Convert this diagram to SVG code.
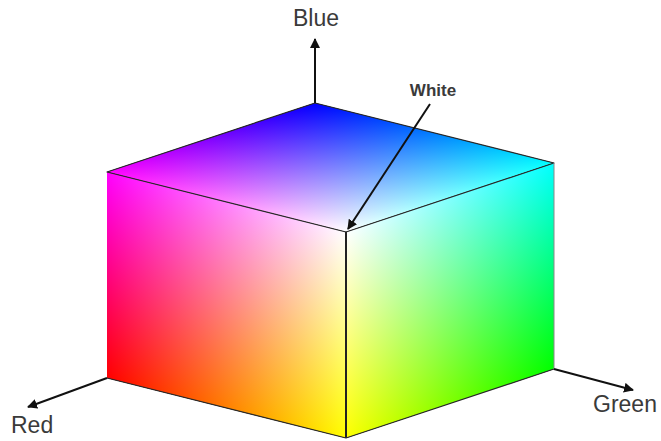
<svg xmlns="http://www.w3.org/2000/svg" width="661" height="441" viewBox="0 0 661 441">
<style>
.lbl{font-family:"Liberation Sans",Arial,sans-serif;fill:#3a3a3a}
.face{isolation:isolate}
.scr{mix-blend-mode:screen}
.edge{fill:none;stroke:#2a2a2a;stroke-width:1.2;stroke-linejoin:round}
.ax{fill:none;stroke:#111;stroke-width:2}
</style>
<defs>
<linearGradient id="xr" x1="0" y1="0" x2="1" y2="0"><stop offset="0" stop-color="#000"/><stop offset="1" stop-color="#f00"/></linearGradient>
<linearGradient id="xb" x1="0" y1="0" x2="1" y2="0"><stop offset="0" stop-color="#000"/><stop offset="1" stop-color="#00f"/></linearGradient>
<linearGradient id="yg" x1="0" y1="0" x2="0" y2="1"><stop offset="0" stop-color="#000"/><stop offset="1" stop-color="#0f0"/></linearGradient>
<linearGradient id="yr" x1="0" y1="0" x2="0" y2="1"><stop offset="0" stop-color="#000"/><stop offset="1" stop-color="#f00"/></linearGradient>
<marker id="ah" viewBox="0 0 10 10" refX="9" refY="5" markerWidth="5" markerHeight="5" orient="auto" markerUnits="strokeWidth">
<path d="M0,0 L10,5 L0,10 Z" fill="#111"/>
</marker>
</defs>
<rect width="661" height="441" fill="#fff"/>
<g id="face-top" class="face">
<g transform="matrix(-208,69,239,60,315,103)">
<rect width="1" height="1" fill="#00f"/>
<rect class="scr" width="1" height="1" fill="url(#xr)"/>
<rect class="scr" width="1" height="1" fill="url(#yg)"/>
</g>
</g>
<g id="face-left" class="face">
<g transform="matrix(0,-206,239,60,107,378)">
<rect width="1" height="1" fill="#f00"/>
<rect class="scr" width="1" height="1" fill="url(#xb)"/>
<rect class="scr" width="1" height="1" fill="url(#yg)"/>
</g>
</g>
<g id="face-right" class="face">
<g transform="matrix(0,-206,-208,69,554,369)">
<rect width="1" height="1" fill="#0f0"/>
<rect class="scr" width="1" height="1" fill="url(#xb)"/>
<rect class="scr" width="1" height="1" fill="url(#yr)"/>
</g>
</g>
<g id="edges">
<polygon class="edge" points="315,103 107,172 346,232 554,163"/>
<line x1="346" y1="232" x2="346" y2="438" stroke="#222" stroke-width="2"/>
<polyline class="edge" points="107,378 346,438 554,369"/>
<line x1="554" y1="163" x2="554" y2="369" stroke="#888" stroke-width="1"/>
</g>
<g id="connectors">
<line class="ax" x1="315" y1="103" x2="315" y2="39" marker-end="url(#ah)"/>
<line class="ax" x1="107" y1="378" x2="28" y2="407" marker-end="url(#ah)"/>
<line class="ax" x1="554" y1="369" x2="633" y2="390" marker-end="url(#ah)"/>
<line class="ax" x1="430" y1="104" x2="348" y2="229" marker-end="url(#ah)"/>
</g>
<g id="labels">
<text class="lbl" x="316" y="26" font-size="23" text-anchor="middle">Blue</text>
<text class="lbl" x="433" y="96" font-size="17" font-weight="bold" text-anchor="middle">White</text>
<text class="lbl" x="11" y="433" font-size="23">Red</text>
<text class="lbl" x="593" y="412" font-size="23">Green</text>
</g>
</svg>
